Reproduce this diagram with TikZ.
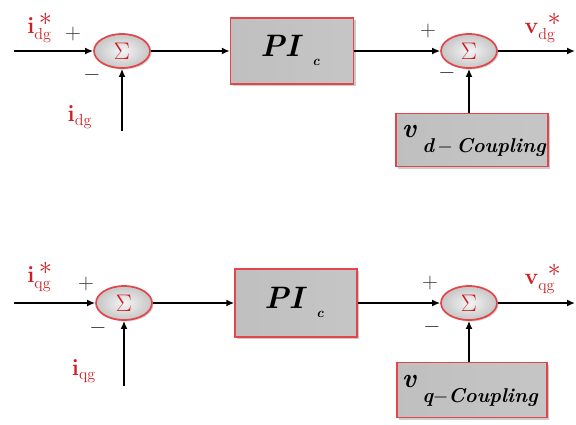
\RequirePackage{fix-cm}
\documentclass[tikz,border=0pt]{standalone}
\usetikzlibrary{shapes.geometric,arrows.meta,shadows}
\definecolor{lblred}{RGB}{205,30,35}
\definecolor{edgered}{RGB}{225,70,75}
\newcommand{\bigstarsup}{\scalebox{1.15}{$\ast$}}
\tikzset{
  sumnode/.style={ellipse, draw=edgered, line width=1.7pt, minimum width=56pt, minimum height=34pt,
    inner color=gray!8, outer color=gray!45, drop shadow={opacity=0.35,shadow xshift=1.5pt,shadow yshift=-1.5pt},
    text=lblred, font=\fontsize{24}{26}\selectfont, inner sep=0pt},
  blockbox/.style={rectangle, draw=edgered, line width=1.5pt,
    left color=gray!50, middle color=gray!12, right color=gray!45,
    drop shadow={opacity=0.4,shadow xshift=2pt,shadow yshift=-2pt}, inner sep=0pt},
  sig/.style={-{Latex[length=8pt,width=7pt]}, line width=2.6pt, black},
  lbl/.style={text=lblred, font=\fontsize{23}{26}\selectfont, inner sep=0pt},
  sgn/.style={font=\fontsize{22}{24}\selectfont, inner sep=0pt, text=black!80},
  pitext/.style={font=\fontsize{31}{33}\selectfont\bfseries\itshape, inner sep=0pt},
  pisub/.style={font=\fontsize{14}{16}\selectfont\bfseries\itshape, inner sep=0pt},
  cv/.style={font=\fontsize{27}{29}\selectfont\bfseries\itshape, inner sep=0pt},
  csub/.style={font=\fontsize{20}{22}\selectfont\bfseries\itshape, inner sep=0pt}
}
\begin{document}
\begin{tikzpicture}[x=1pt,y=-1pt]
\useasboundingbox (0,0) rectangle (576,424);
% ---------- top (d) loop ----------
\node[sumnode] (E1) at (122,51) {$\Sigma$};
\node[blockbox, minimum width=123pt, minimum height=66pt] (P1) at (292,51) {};
\node[pitext] (P1t) at (280,46) {PI};
\node[pisub] (P1s) at (316,62) {c};
\node[sumnode] (E2) at (469,51) {$\Sigma$};
\node[blockbox, minimum width=152pt, minimum height=53pt] (C1) at (472,140) {};
\node[cv] (C1v) at (409,131) {v};
\node[csub] (C1s) at (484,147) {d\,$-$\,Coupling};
\coordinate (in1) at (14,51);
\coordinate (fb1) at (122,131);
\coordinate (out1) at (575,51);
\draw[sig] (in1) -- (E1);
\draw[sig] (fb1) -- (E1);
\draw[sig] (E1) -- (P1);
\draw[sig] (P1) -- (E2);
\draw[sig] (E2) -- (out1);
\draw[sig] (C1.north -| E2.south) -- (E2.south);
\node[lbl] (l1) at (40,28) {$\mathbf{i}_{\mathrm{dg}}^{\;\bigstarsup}$};
\node[lbl] (l2) at (80,117) {$\mathbf{i}_{\mathrm{dg}}$};
\node[lbl] (l3) at (543,28) {$\mathbf{v}_{\mathrm{dg}}^{\;\;\bigstarsup}$};
\node[sgn] (s1) at (73,34) {$+$};
\node[sgn] (s2) at (92,75) {$-$};
\node[sgn] (s3) at (428,31) {$+$};
\node[sgn] (s4) at (447,73) {$-$};
% ---------- bottom (q) loop ----------
\node[sumnode] (E3) at (124,303) {$\Sigma$};
\node[blockbox, minimum width=122pt, minimum height=68pt] (P2) at (296,303) {};
\node[pitext] (P2t) at (284,298) {PI};
\node[pisub] (P2s) at (320,314) {c};
\node[sumnode] (E4) at (469,303) {$\Sigma$};
\node[blockbox, minimum width=150pt, minimum height=55pt] (C2) at (472,390) {};
\node[cv] (C2v) at (409,381) {v};
\node[csub] (C2s) at (480,397) {q$-$Coupling};
\coordinate (in2) at (14,303);
\coordinate (fb2) at (124,386);
\coordinate (out2) at (575,303);
\draw[sig] (in2) -- (E3);
\draw[sig] (fb2) -- (E3);
\draw[sig] (E3) -- (P2);
\draw[sig] (P2) -- (E4);
\draw[sig] (E4) -- (out2);
\draw[sig] (C2.north -| E4.south) -- (E4.south);
\node[lbl] (l4) at (40,277) {$\mathbf{i}_{\mathrm{qg}}^{\;\bigstarsup}$};
\node[lbl] (l5) at (84,371) {$\mathbf{i}_{\mathrm{qg}}$};
\node[lbl] (l6) at (543,279) {$\mathbf{v}_{\mathrm{qg}}^{\;\;\bigstarsup}$};
\node[sgn] (s5) at (86,284) {$+$};
\node[sgn] (s6) at (98,328) {$-$};
\node[sgn] (s7) at (430,283) {$+$};
\node[sgn] (s8) at (432,327) {$-$};
\end{tikzpicture}
\end{document}
